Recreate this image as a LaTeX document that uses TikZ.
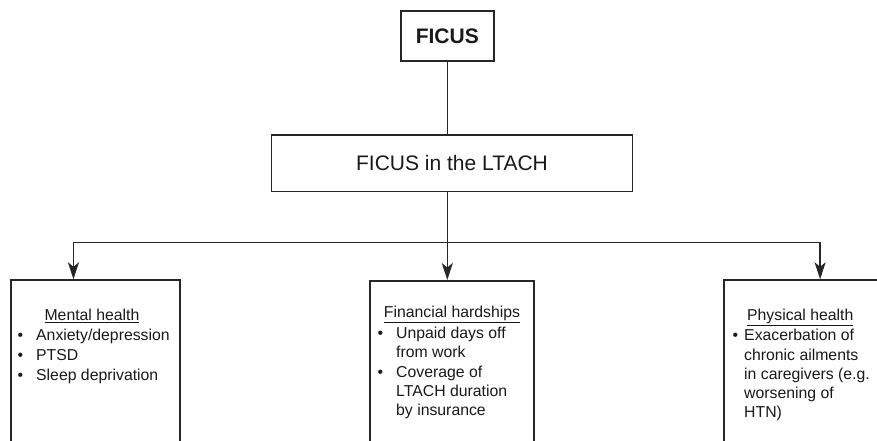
\documentclass[tikz,border=0pt]{standalone}
\usepackage{fontspec}
\setmainfont{Liberation Sans}
\usetikzlibrary{arrows.meta}
\begin{document}
\begin{tikzpicture}[x=1pt,y=-1pt,
  box/.style={draw=black!85, line width=1.6pt, inner sep=0pt, anchor=north west},
  link/.style={draw=black!85, line width=1.5pt},
  tip/.style={-{Stealth[length=17pt,width=11pt,inset=4.5pt]}},
  txt/.style={anchor=base west, inner sep=0pt, font=\fontsize{15.8}{19.7}\selectfont, text=black!90},
  head/.style={txt, anchor=base},
  dot/.style={txt},
]
\useasboundingbox (0,0) rectangle (877,441);
\clip (0,0) rectangle (877,441);

% top of the hierarchy
\node[box, minimum width=93pt, minimum height=50pt,
      font=\bfseries\fontsize{21}{25}\selectfont, text=black!90] (ficus) at (400,10) {FICUS};
\node[box, minimum width=361pt, minimum height=56.7pt,
      font=\fontsize{21}{25}\selectfont, text=black!90] (ltach) at (270.7,134) {FICUS in the LTACH};

% the three domains (boxes run past the lower edge)
\node[box, minimum width=169.3pt, minimum height=180pt] (mental) at (10,279.3) {};
\node[box, minimum width=164pt, minimum height=180pt] (fin) at (369.3,280) {};
\node[box, minimum width=160pt, minimum height=180pt] (phys) at (723.3,279.3) {};

% connectors
\coordinate (hub) at (446.5,242.7);
\draw[link] (ficus.south) -- (ficus.south |- ltach.north);
\draw[link,tip] (ficus.south |- ltach.south) -- (ficus.south |- fin.north);
\draw[link,tip] (hub) -| ([xshift=-22pt]mental.north);
\draw[link,tip] (hub) -| ([xshift=16pt]phys.north);

% mental health
\node[head] (mh) at (92,320.7) {\underline{Mental health}};
\node[dot] (mb1) at (17.5,340.3) {•};
\node[txt] (m1) at (36,340.3) {Anxiety/depression};
\node[dot] (mb2) at (17.5,360) {•};
\node[txt] (m2) at (36,360) {PTSD};
\node[dot] (mb3) at (17.5,380) {•};
\node[txt] (m3) at (36,380) {Sleep deprivation};

% financial hardships
\node[head] (fh) at (452,317.3) {\underline{Financial hardships}};
\node[dot] (fb1) at (377.5,338.3) {•};
\node[txt] (f1a) at (396,338.3) {Unpaid days off};
\node[txt] (f1b) at (396,357.3) {from work};
\node[dot] (fb2) at (377.5,377.7) {•};
\node[txt] (f2a) at (396,377.7) {Coverage of};
\node[txt] (f2b) at (396,396.7) {LTACH duration};
\node[txt] (f2c) at (396,415.5) {by insurance};

% physical health
\node[head] (ph) at (800.3,320.7) {\underline{Physical health}};
\node[dot] (pb1) at (732.5,340) {•};
\node[txt] (p1a) at (744,340) {Exacerbation of};
\node[txt] (p1b) at (744,360) {chronic ailments};
\node[txt] (p1c) at (744,379.3) {in caregivers (e.g.};
\node[txt] (p1d) at (744,398.5) {worsening of};
\node[txt] (p1e) at (744,417.5) {HTN)};
\end{tikzpicture}
\end{document}
